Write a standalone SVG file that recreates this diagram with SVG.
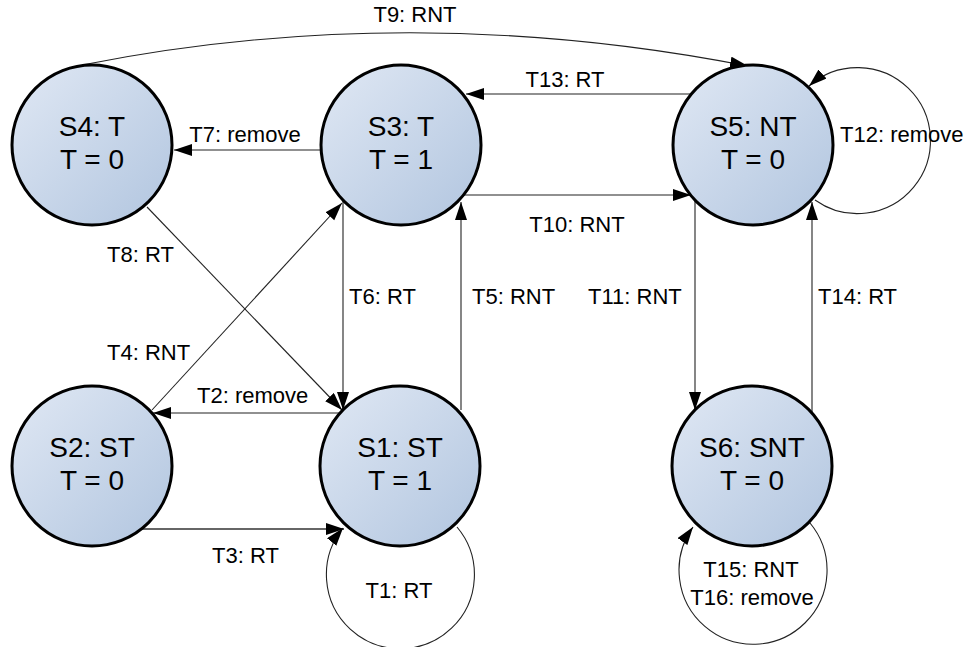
<svg xmlns="http://www.w3.org/2000/svg" width="968" height="647" viewBox="0 0 968 647">
<defs>
<linearGradient id="nodeFill" x1="0" y1="0" x2="1" y2="1">
<stop offset="0" stop-color="#e0e8f4"/>
<stop offset="1" stop-color="#b1c5df"/>
</linearGradient>
<marker id="arrow" markerUnits="userSpaceOnUse" markerWidth="20" markerHeight="14" refX="18" refY="6" orient="auto">
<path d="M0,0 L18,6 L0,12 z" fill="#000"/>
</marker>
</defs>
<style>
.node circle{fill:url(#nodeFill);stroke:#000;stroke-width:3}
.node text{font-family:"Liberation Sans",Arial,sans-serif;font-size:28px;fill:#000;text-anchor:middle}
.edge{fill:none;stroke:#222;stroke-width:1.1;marker-end:url(#arrow)}
.lbl{font-family:"Liberation Sans",Arial,sans-serif;font-size:22px;fill:#000}
.mid{text-anchor:middle}
</style>
<rect width="968" height="647" fill="#fff"/>
<g id="connectors">
<path class="edge" d="M82,65 Q410,0 748,66"/>
<path class="edge" d="M691,94 L466,94"/>
<path class="edge" d="M815,200 A73,73 0 1 0 809,86"/>
<path class="edge" d="M321,150 L174,150"/>
<path class="edge" d="M463,195 L691,195"/>
<path class="edge" d="M147,207 L342,410"/>
<path class="edge" d="M152,410 L342,203"/>
<path class="edge" d="M343,200 L343,410"/>
<path class="edge" d="M461,410 L461,202"/>
<path class="edge" d="M342,413 L153,413"/>
<path class="edge" d="M142,529 L344,529" style="stroke:#666;stroke-width:2"/>
<path class="edge" d="M457,527 A74,74 0 1 1 343,528"/>
<path class="edge" d="M695,200 L695,410"/>
<path class="edge" d="M812,412 L812,202"/>
<path class="edge" d="M810,523 A74,74 0 1 1 693,527"/>
</g>
<g id="labels">
<text class="lbl mid" x="415" y="22">T9: RNT</text>
<text class="lbl mid" x="565" y="87">T13: RT</text>
<text class="lbl" x="840" y="142">T12: remove</text>
<text class="lbl mid" x="245" y="142">T7: remove</text>
<text class="lbl mid" x="577" y="232">T10: RNT</text>
<text class="lbl" x="107" y="262">T8: RT</text>
<text class="lbl" x="349" y="304">T6: RT</text>
<text class="lbl" x="472" y="304">T5: RNT</text>
<text class="lbl" x="588" y="304">T11: RNT</text>
<text class="lbl" x="818" y="304">T14: RT</text>
<text class="lbl" x="107" y="360">T4: RNT</text>
<text class="lbl" x="197" y="403">T2: remove</text>
<text class="lbl" x="212" y="563">T3: RT</text>
<text class="lbl mid" x="399" y="598">T1: RT</text>
<text class="lbl mid" x="751" y="577">T15: RNT</text>
<text class="lbl mid" x="752" y="605">T16: remove</text>
</g>
<g id="S4" class="node"><circle cx="92" cy="145" r="80"/><text x="92" y="136">S4: T</text><text x="92" y="169">T = 0</text></g>
<g id="S3" class="node"><circle cx="401" cy="145" r="80"/><text x="401" y="136">S3: T</text><text x="401" y="169">T = 1</text></g>
<g id="S5" class="node"><circle cx="753" cy="145" r="80"/><text x="753" y="136">S5: NT</text><text x="753" y="169">T = 0</text></g>
<g id="S2" class="node"><circle cx="92" cy="466" r="80"/><text x="92" y="457">S2: ST</text><text x="92" y="490">T = 0</text></g>
<g id="S1" class="node"><circle cx="400" cy="466" r="80"/><text x="400" y="457">S1: ST</text><text x="400" y="490">T = 1</text></g>
<g id="S6" class="node"><circle cx="752" cy="466" r="80"/><text x="752" y="457">S6: SNT</text><text x="752" y="490">T = 0</text></g>
</svg>
